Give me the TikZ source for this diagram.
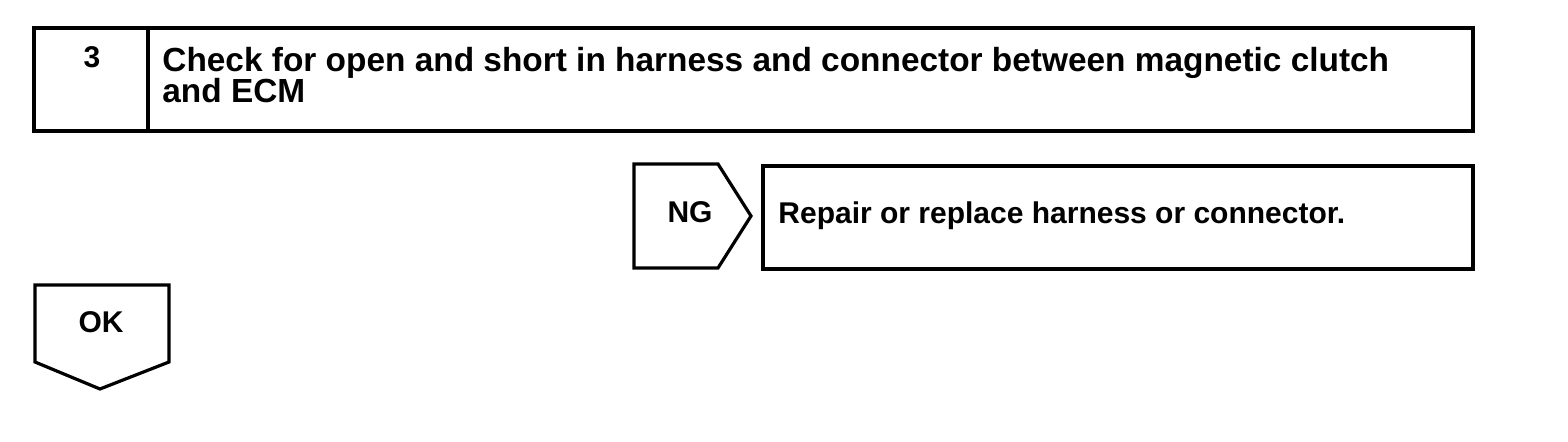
\documentclass[tikz,border=0pt]{standalone}
\usepackage{fontspec}
\setmainfont{Liberation Sans}
\usepackage{tikz}
\usetikzlibrary{calc}

\newcommand{\headfont}{\fontsize{16.7}{15.6}\selectfont\bfseries\setlength{\lineskiplimit}{-20pt}}

\tikzset{
  box/.style={draw, line width=1.6pt},
  lbl/.style={font=\fontsize{15}{15}\selectfont\bfseries, inner sep=0pt, anchor=base},
  head/.style={font=\headfont, inner sep=0pt},
}

\begin{document}
\begin{tikzpicture}[x=0.5pt, y=-0.5pt, line join=miter]
\useasboundingbox (0,0) rectangle (1568,442);

% step header
\draw[box] (34,28) rectangle (1473,131);
\draw[box] (148,28) -- (148,131);
\node[lbl] (num) at (92,68) {3};
\node[head, anchor=base west, align=left] (title) at (162,103)
  {Check for open and short in harness and connector between magnetic clutch\\and ECM};

% NG branch
\draw[box] (634,164) -- (718,164) -- (751,216) -- (718,268) -- (634,268) -- cycle;
\node[lbl] (ng) at (690,223) {NG};
\draw[box] (763,166) rectangle (1473,269);
\node[lbl, anchor=base west] (repair) at (778,224) {Repair or replace harness or connector.};

% OK branch
\draw[box] (35,285) -- (169,285) -- (169,362) -- (100,389) -- (35,362) -- cycle;
\node[lbl] (ok) at (101,333) {OK};
\end{tikzpicture}
\end{document}
